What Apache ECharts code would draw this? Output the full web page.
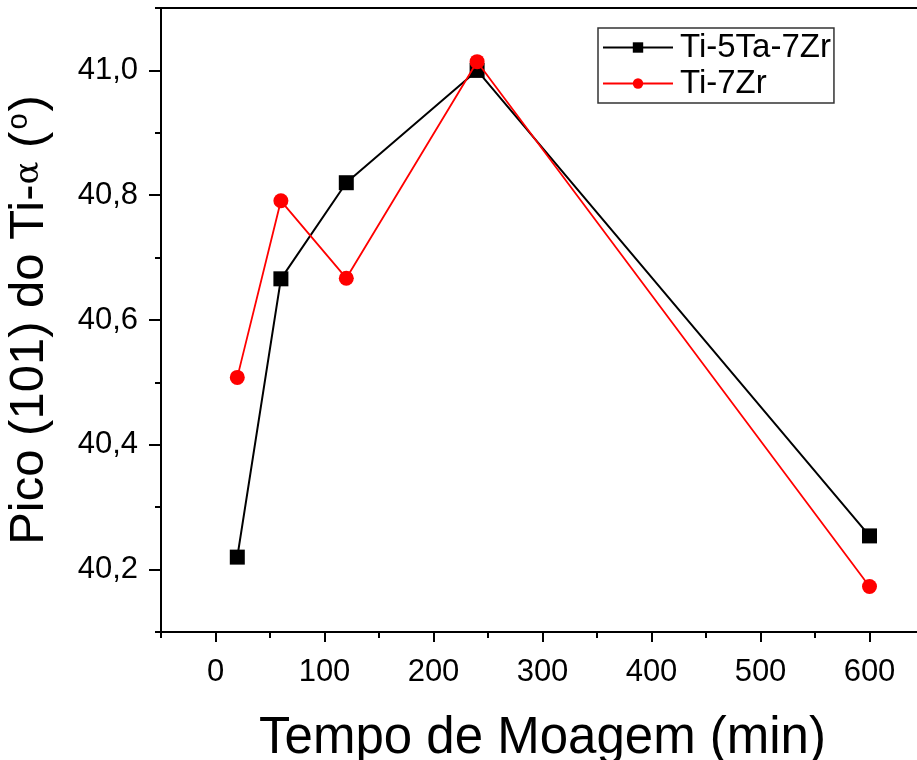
<!DOCTYPE html>
<html><head><meta charset="utf-8">
<script src="https://cdn.jsdelivr.net/npm/echarts@6/dist/echarts.min.js"></script>
<style>html,body{margin:0;padding:0;background:#fff}#c{width:917px;height:760px}</style>
</head><body><div id="c"></div>
<script>
const timesMin = [20, 60, 120, 240, 600];
const ti5ta7zr = [40.22, 40.666, 40.82, 41.0, 40.254];
const ti7zr = [40.508, 40.791, 40.667, 41.014, 40.173];
// axis ranges and tick steps
const xRange = [-50, 650], xMajorRange = [0, 600], xMajorStep = 100, xMinorStep = 50;
const yRange = [40.1, 41.1], yMajorRange = [40.2, 41.0], yMajorStep = 0.2, yMinorStep = 0.1;

const FONT = 'Liberation Sans, Arial, sans-serif';
const W = 917, H = 760;
const G = {left: 161, right: -7, top: 8, bottom: 128};
const plotW = W - G.left - G.right, plotH = H - G.top - G.bottom;
const kx = plotW / (xRange[1] - xRange[0]);
const ky = plotH / (yRange[1] - yRange[0]);
const gX = {left: G.left + (xMajorRange[0] - xRange[0]) * kx, right: G.right + (xRange[1] - xMajorRange[1]) * kx,
            top: G.top, bottom: G.bottom, outerBoundsMode: 'none'};
const gY = {left: G.left, right: G.right, top: G.top + (yRange[1] - yMajorRange[1]) * ky,
            bottom: G.bottom + (yMajorRange[0] - yRange[0]) * ky, outerBoundsMode: 'none'};

const chart = echarts.init(document.getElementById('c'));
const blank = {splitLine: {show: false}};
chart.setOption({
  animation: false,
  backgroundColor: '#fff',
  grid: [
    Object.assign({outerBoundsMode: 'none', containLabel: false, show: true, borderColor: '#000', borderWidth: 2,
                   backgroundColor: 'transparent'}, G),
    gX, gY
  ],
  legend: {
    left: 598, top: 28, orient: 'vertical', itemGap: 3,
    padding: [3, 3, 3, 4],
    borderColor: '#333', borderWidth: 1.5, backgroundColor: '#fff',
    itemWidth: 70, itemHeight: 13,
    textStyle: {fontFamily: FONT, fontSize: 33, color: '#000', padding: [0, 0, 0, 2]},
    data: ['Ti-5Ta-7Zr', 'Ti-7Zr']
  },
  xAxis: [
    Object.assign({}, blank, {
      type: 'value', gridIndex: 0, min: xRange[0], max: xRange[1], interval: xMinorStep,
      name: 'Tempo de Moagem (min)', nameLocation: 'middle', nameGap: 81,
      nameTextStyle: {fontFamily: FONT, fontSize: 51, color: '#000'},
      axisLine: {onZero: false, lineStyle: {color: '#000', width: 2}},
      axisTick: {show: true, length: 6, lineStyle: {color: '#000', width: 2}},
      axisLabel: {show: false}
    }),
    Object.assign({}, blank, {
      type: 'value', gridIndex: 1, min: xMajorRange[0], max: xMajorRange[1], interval: xMajorStep,
      axisLine: {show: false, onZero: false},
      axisTick: {show: true, length: 10, lineStyle: {color: '#000', width: 2}},
      axisLabel: {fontFamily: FONT, fontSize: 31, color: '#000', margin: 25}
    }),
    Object.assign({}, blank, {type: 'value', gridIndex: 2, show: false, min: xRange[0], max: xRange[1]})
  ],
  yAxis: [
    Object.assign({}, blank, {
      type: 'value', gridIndex: 0, min: yRange[0], max: yRange[1], interval: yMinorStep,
      name: 'Pico (101) do Ti-{a|α} ({s|o})', nameLocation: 'middle', nameGap: 106, nameRotate: 90,
      nameTextStyle: {fontFamily: FONT, fontSize: 49, color: '#000',
        rich: {a: {fontFamily: 'DejaVu Serif, serif', fontSize: 34, color: '#000'},
               s: {fontFamily: FONT, fontSize: 29, color: '#000', padding: [0, 2, 22, 2]}}},
      axisLine: {onZero: false, lineStyle: {color: '#000', width: 2}},
      axisTick: {show: true, length: 6, lineStyle: {color: '#000', width: 2}},
      axisLabel: {show: false}
    }),
    Object.assign({}, blank, {type: 'value', gridIndex: 1, show: false, min: yRange[0], max: yRange[1]}),
    Object.assign({}, blank, {
      type: 'value', gridIndex: 2, min: yMajorRange[0], max: yMajorRange[1], interval: yMajorStep,
      axisLine: {show: false, onZero: false},
      axisTick: {show: true, length: 12, lineStyle: {color: '#000', width: 2}},
      axisLabel: {fontFamily: FONT, fontSize: 31, color: '#000', margin: 23,
        formatter: v => v.toFixed(1).replace('.', ',')}
    })
  ],
  series: [
    {name: 'Ti-5Ta-7Zr', type: 'line', xAxisIndex: 0, yAxisIndex: 0,
     data: timesMin.map((t, i) => [t, ti5ta7zr[i]]),
     symbol: 'rect', symbolSize: 15, color: '#000',
     lineStyle: {color: '#000', width: 2}, itemStyle: {color: '#000'}, z: 2},
    {name: 'Ti-7Zr', type: 'line', xAxisIndex: 0, yAxisIndex: 0,
     data: timesMin.map((t, i) => [t, ti7zr[i]]),
     symbol: 'circle', symbolSize: 15, color: '#f00',
     lineStyle: {color: '#f00', width: 1.8}, itemStyle: {color: '#f00'}, z: 3}
  ]
});
</script></body></html>
